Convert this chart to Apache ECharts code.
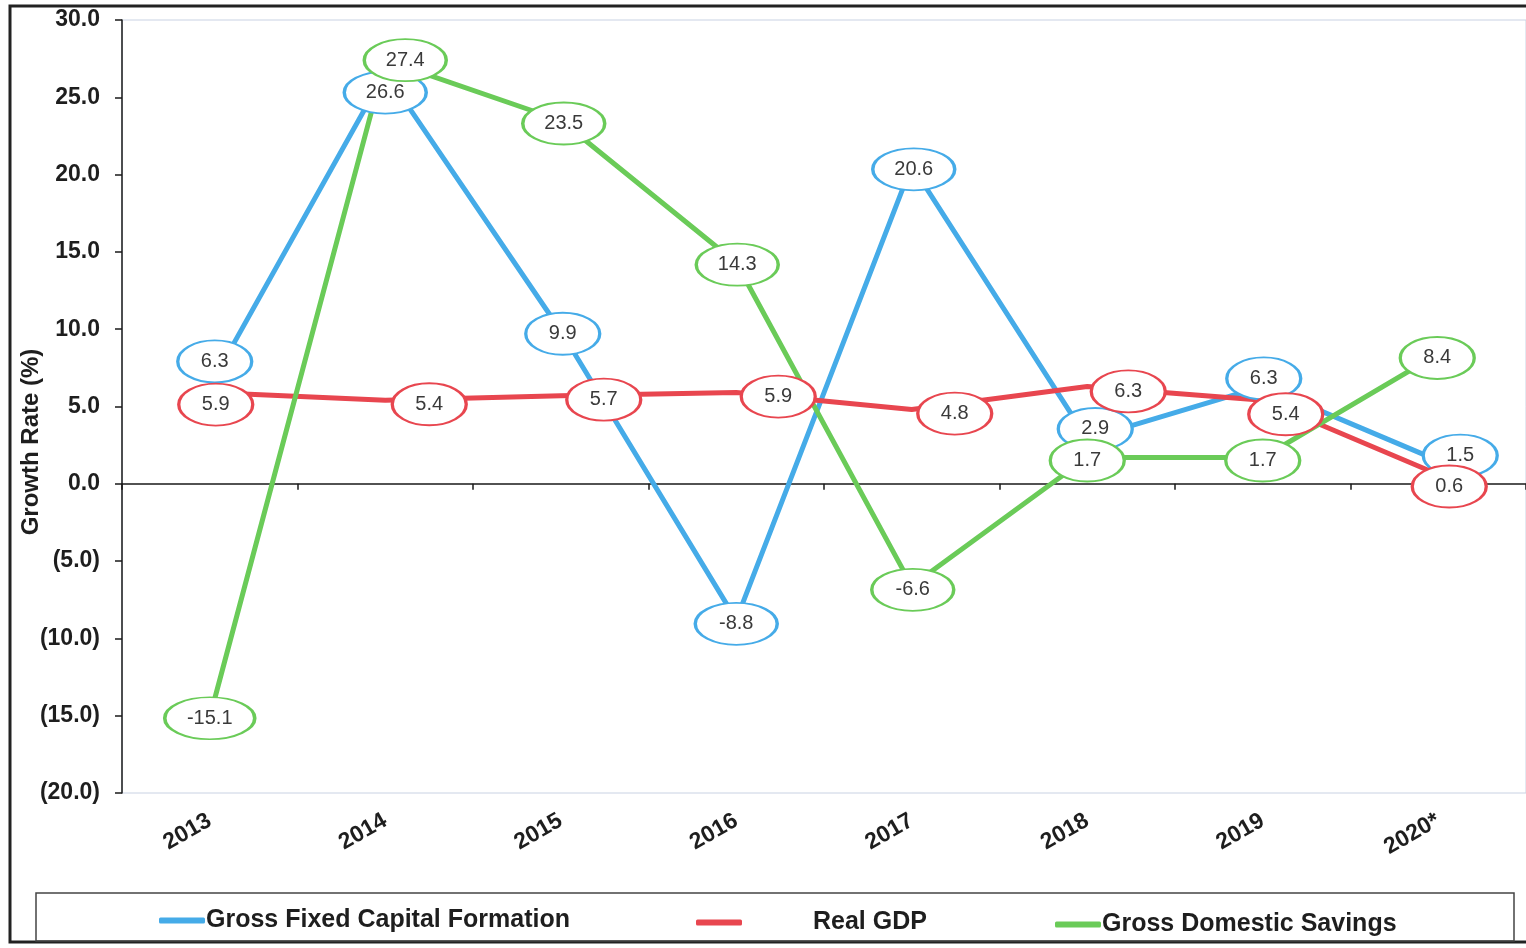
<!DOCTYPE html>
<html>
<head>
<meta charset="utf-8">
<script src="https://cdn.jsdelivr.net/npm/echarts@6/dist/echarts.min.js"></script>
<style>
  html, body { margin: 0; padding: 0; background: #ffffff; }
  #chart { width: 1526px; height: 948px; }
</style>
</head>
<body>
<div id="chart"></div>
<script>
// Growth rates (%) by year
const years = ['2013', '2014', '2015', '2016', '2017', '2018', '2019', '2020*'];
const grossFixedCapitalFormation = [6.3, 26.6, 9.9, -8.8, 20.6, 2.9, 6.3, 1.5];
const realGDP = [5.9, 5.4, 5.7, 5.9, 4.8, 6.3, 5.4, 0.6];
const grossDomesticSavings = [-15.1, 27.4, 23.5, 14.3, -6.6, 1.7, 1.7, 8.4];

// y-axis tick range
const yMin = -20, yMax = 30, yStep = 5;

// label bubble offsets (px) so overlapping labels stay readable
const gfcfLabelShift = [[5, -25], [0, 20], [2, 3], [0, 4], [2, 4], [8, -10], [1, -8], [22, -5]];
const gdpLabelShift = [[6, 12], [44, 4], [43, 4], [42, 4], [43, 4], [41, 5], [23, 14], [11, 12]];
const gdsLabelShift = [[0, 1], [20, 0], [3, 3], [1, 2], [1, 4], [0, 3], [0, 3], [-1, 4]];

const BLUE = '#45abe8';
const RED = '#e8464f';
const GREEN = '#6acb58';
const ELLIPSE = 'path://M0,50 A100,50 0 1,1 200,50 A100,50 0 1,1 0,50 Z';
const FONT = '"Liberation Sans", Arial, sans-serif';

function lineSeries(name, values, color) {
  return {
    name: name,
    type: 'line',
    data: values,
    showSymbol: false,
    symbol: 'none',
    z: 2,
    lineStyle: { color: color, width: 5 },
    itemStyle: { color: color },
    emphasis: { disabled: true },
    animation: false
  };
}

function bubbleSeries(name, values, color, shifts) {
  return {
    name: name,
    type: 'scatter',
    z: 4,
    data: values.map(function (v, i) {
      const len = String(v).length;
      return {
        value: v,
        symbolSize: [50 + 8 * len, 42],
        symbolOffset: shifts[i]
      };
    }),
    symbol: ELLIPSE,
    itemStyle: { color: '#ffffff', borderColor: color, borderWidth: 2.5, opacity: 1 },
    label: {
      show: true,
      position: 'inside',
      color: '#3a3a3a',
      fontFamily: FONT,
      fontSize: 20,
      formatter: function (p) { return p.value.toFixed(1); }
    },
    emphasis: { disabled: true },
    animation: false
  };
}

const chart = echarts.init(document.getElementById('chart'), null, { renderer: 'canvas' });

const legendText = { color: '#1e1e1e', fontFamily: FONT, fontSize: 25, fontWeight: 'bold' };

chart.setOption({
  backgroundColor: '#ffffff',
  animation: false,
  grid: {
    left: 122, right: -4, top: 20, bottom: 155,
    show: true, borderColor: '#c9d2e3', borderWidth: 1, backgroundColor: 'transparent'
  },
  xAxis: [
    {
      type: 'category',
      data: years,
      position: 'bottom',
      axisLine: { onZero: true, lineStyle: { color: '#1a1a1a', width: 1.5 } },
      axisTick: { show: true, length: 6, lineStyle: { color: '#1a1a1a', width: 1.5 } },
      axisLabel: { show: false },
      splitLine: { show: false }
    },
    {
      type: 'category',
      data: years,
      position: 'bottom',
      axisLine: { show: false, onZero: false },
      axisTick: { show: false },
      axisLabel: {
        show: true, rotate: 30, margin: 26,
        color: '#1e1e1e', fontFamily: FONT, fontSize: 23, fontWeight: 'bold'
      },
      splitLine: { show: false }
    }
  ],
  yAxis: {
    type: 'value',
    min: yMin, max: yMax, interval: yStep,
    axisLine: { show: true, lineStyle: { color: '#1a1a1a', width: 1.5 } },
    axisTick: { show: true, inside: false, length: 7, lineStyle: { color: '#1a1a1a', width: 1.5 } },
    axisLabel: {
      margin: 22,
      color: '#1e1e1e', fontFamily: FONT, fontSize: 23, fontWeight: 'bold',
      formatter: function (v) {
        return v < 0 ? '(' + Math.abs(v).toFixed(1) + ')' : v.toFixed(1);
      }
    },
    splitLine: { show: false }
  },
  legend: [
    {
      data: ['Gross Fixed Capital Formation'],
      left: 154, top: 903,
      icon: 'roundRect', itemWidth: 46, itemHeight: 6, itemGap: 0,
      textStyle: Object.assign({ padding: [0, 0, 0, -4] }, legendText),
      selectedMode: false
    },
    {
      data: ['Real GDP'],
      left: 691, top: 905,
      icon: 'roundRect', itemWidth: 46, itemHeight: 6, itemGap: 0,
      textStyle: Object.assign({ padding: [0, 0, 0, 66] }, legendText),
      selectedMode: false
    },
    {
      data: ['Gross Domestic Savings'],
      left: 1050, top: 907,
      icon: 'roundRect', itemWidth: 46, itemHeight: 6, itemGap: 0,
      textStyle: Object.assign({ padding: [0, 0, 0, -4] }, legendText),
      selectedMode: false
    }
  ],
  graphic: [
    {
      type: 'rect', silent: true, z: 0,
      shape: { x: 10, y: 6, width: 1530, height: 936 },
      style: { fill: 'none', stroke: '#222222', lineWidth: 3 }
    },
    {
      type: 'rect', silent: true, z: 0,
      shape: { x: 36, y: 893, width: 1478, height: 48 },
      style: { fill: 'none', stroke: '#444444', lineWidth: 1.5 }
    },
    {
      type: 'text', silent: true,
      x: 31, y: 442, rotation: Math.PI / 2,
      style: {
        text: 'Growth Rate (%)',
        fill: '#1e1e1e', font: 'bold 24px ' + FONT,
        textAlign: 'center', textVerticalAlign: 'middle'
      }
    }
  ],
  series: [
    lineSeries('Gross Fixed Capital Formation', grossFixedCapitalFormation, BLUE),
    lineSeries('Real GDP', realGDP, RED),
    lineSeries('Gross Domestic Savings', grossDomesticSavings, GREEN),
    bubbleSeries('Gross Fixed Capital Formation', grossFixedCapitalFormation, BLUE, gfcfLabelShift),
    bubbleSeries('Real GDP', realGDP, RED, gdpLabelShift),
    bubbleSeries('Gross Domestic Savings', grossDomesticSavings, GREEN, gdsLabelShift)
  ]
});
</script>
</body>
</html>
